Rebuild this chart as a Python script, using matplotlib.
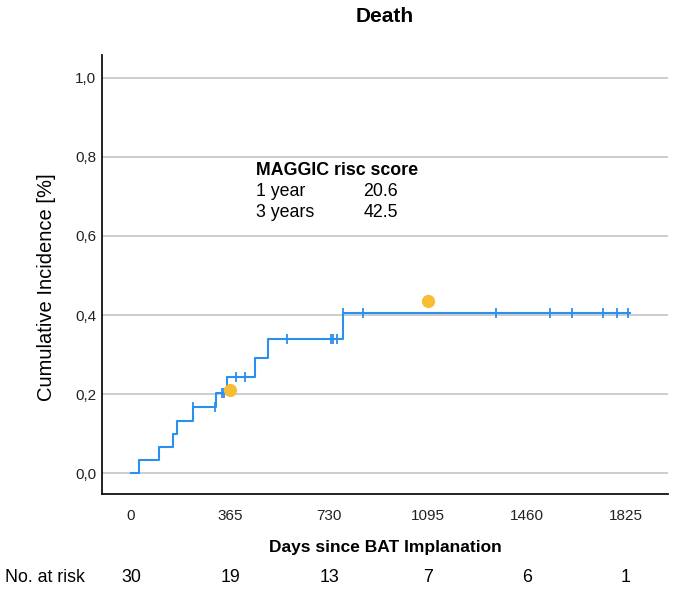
import numpy as np
import matplotlib.pyplot as plt

plt.rcParams['font.family'] = ['Liberation Sans', 'DejaVu Sans']

# Kaplan-Meier style cumulative incidence
step_days = [0, 31, 104, 154, 168, 228, 313, 353, 457, 506, 781]
cum_inc = [0.0, 0.033, 0.067, 0.100, 0.133, 0.168, 0.203, 0.244, 0.292, 0.339, 0.405]
last_day = 1840
censor_days = [228, 309, 336, 341, 387, 419, 576, 736, 746, 758, 781,
               857, 1346, 1544, 1625, 1739, 1793, 1834]

# MAGGIC predicted risk
maggic_days = [365, 1095]
maggic_risk = [0.21, 0.435]

xticks = [0, 365, 730, 1095, 1460, 1825]
yticks = [0.0, 0.2, 0.4, 0.6, 0.8, 1.0]
ytick_labels = ['0,0', '0,2', '0,4', '0,6', '0,8', '1,0']
at_risk = [30, 19, 13, 7, 6, 1]

line_color = '#2b8fef'
dot_color = '#f8bd33'


def level_at(day):
    idx = np.searchsorted(step_days, day, side='right') - 1
    return cum_inc[idx]


fig = plt.figure(figsize=(6.73, 5.90), dpi=100)
ax = fig.add_axes([0.1516, 0.1627, 0.9926 - 0.1516, 0.9068 - 0.1627])

for y in yticks:
    ax.axhline(y, color='#c8c8c8', lw=1.3, zorder=0)

xs = step_days + [last_day]
ys = cum_inc + [cum_inc[-1]]
ax.step(xs, ys, where='post', color=line_color, lw=1.5, zorder=2)

cens_y = [level_at(d) for d in censor_days]
ax.plot(censor_days, cens_y, ls='none', marker='|', ms=7, mew=1.3,
        color=line_color, zorder=3)

ax.plot(maggic_days, maggic_risk, ls='none', marker='o', ms=8.5,
        color=dot_color, mec=dot_color, zorder=4)

ax.set_xlim(-107, 1980)
ax.set_ylim(-0.053, 1.058)
ax.set_xticks(xticks)
ax.set_xticklabels([str(t) for t in xticks])
ax.set_yticks(yticks)
ax.set_yticklabels(ytick_labels)
ax.tick_params(length=0, labelsize=11, colors='#222222')
ax.tick_params(axis='y', pad=4)
ax.tick_params(axis='x', pad=11)

for side in ['top', 'right']:
    ax.spines[side].set_visible(False)
for side in ['left', 'bottom']:
    ax.spines[side].set_linewidth(1.3)
    ax.spines[side].set_color('#111111')

ax.set_title('Death', fontsize=15, fontweight='bold', pad=24)
ax.set_ylabel('Cumulative Incidence [%]', fontsize=14.5)
ax.yaxis.set_label_coords(-0.082, 0.4715)
ax.set_xlabel('Days since BAT Implanation', fontsize=12.5, fontweight='bold',
              labelpad=12)

# MAGGIC risk score box text
ax.text(461, 0.765, 'MAGGIC risc score', fontsize=12.8, fontweight='bold',
        va='center', ha='left')
ax.text(461, 0.712, '1 year', fontsize=12.8, va='center', ha='left')
ax.text(461, 0.659, '3 years', fontsize=12.8, va='center', ha='left')
ax.text(856, 0.712, '20.6', fontsize=12.8, va='center', ha='left')
ax.text(856, 0.659, '42.5', fontsize=12.8, va='center', ha='left')

# Number at risk row
risk_y = 1 - 578 / 590
fig.text(5 / 673, risk_y, 'No. at risk', fontsize=12.8, va='center', ha='left')
for t, n in zip(xticks, at_risk):
    xf = ax.transData.transform((t, 0))[0] / fig.bbox.width
    fig.text(xf, risk_y, str(n), fontsize=12.8, va='center', ha='center')

fig.savefig('out.png', dpi=100)
